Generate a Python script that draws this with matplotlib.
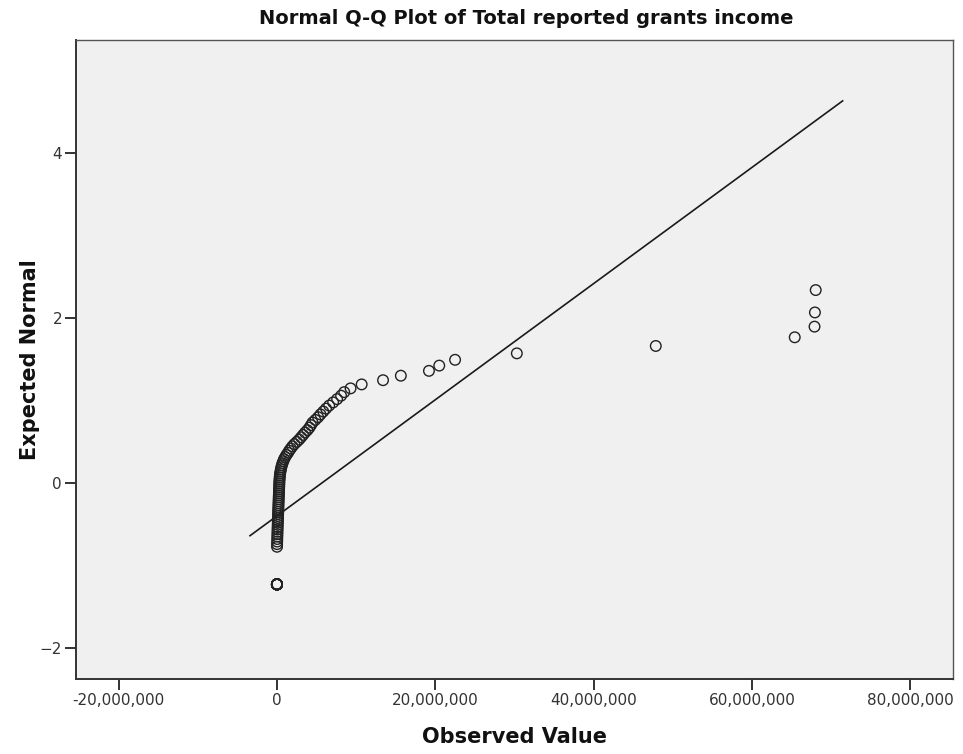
import numpy as np
import pandas as pd
import matplotlib
matplotlib.use("Agg")
import matplotlib.pyplot as plt
from matplotlib.ticker import FuncFormatter, FixedLocator
from statistics import NormalDist

# Total reported grants income per organisation (millions), sorted ascending
zero_reports = [0.0] * 22
grants_income_millions = zero_reports + [
    0.01, 0.02, 0.03, 0.04, 0.05, 0.06, 0.07, 0.08, 0.09, 0.10,
    0.11, 0.12, 0.13, 0.14, 0.15, 0.16, 0.17, 0.18, 0.19, 0.20,
    0.21, 0.22, 0.23, 0.24, 0.25, 0.26, 0.27, 0.28, 0.29, 0.30,
    0.31, 0.33, 0.35, 0.37, 0.40, 0.45, 0.50, 0.55, 0.62, 0.70,
    0.80, 0.90, 1.05, 1.20, 1.40, 1.55, 1.75, 1.95, 2.20, 2.50,
    2.80, 3.05, 3.30, 3.55, 3.85, 4.10, 4.30, 4.50, 4.85, 5.20,
    5.50, 5.85, 6.20, 6.60, 7.10, 7.60, 8.10, 8.50, 9.30, 10.7,
    13.4, 15.65, 19.2, 20.5, 22.5, 30.3, 47.85, 65.4, 67.9, 67.95,
    68.05,
]

x_ticks = [-20e6, 0, 20e6, 40e6, 60e6, 80e6]
y_ticks = [-2, 0, 2, 4]

observed = np.array(grants_income_millions) * 1e6
n = len(observed)

# Expected normal scores (Van der Waerden, mean rank for ties)
ranks = pd.Series(observed).rank(method="average").to_numpy()
nd = NormalDist()
expected = np.array([nd.inv_cdf(r / (n + 1)) for r in ranks])

# Reference line z = (x - mean) / sd
mu = observed.mean()
sd = observed.std(ddof=1)
span = observed.max() - observed.min()
line_x = np.array([observed.min() - 0.05 * span, observed.max() + 0.05 * span])
line_y = (line_x - mu) / sd

W, H = 963, 754
fig = plt.figure(figsize=(W / 100, H / 100), dpi=100)
fig.patch.set_facecolor("white")
left, right, top, bottom = 76, 953, 40, 679
ax = fig.add_axes([left / W, 1 - bottom / H, (right - left) / W, (bottom - top) / H])
ax.set_facecolor("#f0f0f0")

ax.plot(line_x, line_y, color="#1a1a1a", lw=1.2, zorder=2)
ax.scatter(observed, expected, s=58, facecolors="none", edgecolors="#222222",
           linewidths=1.0, zorder=3)

ax.set_xlim(-25.38e6, 85.39e6)
ax.set_ylim(-2.37, 5.37)
ax.xaxis.set_major_locator(FixedLocator(x_ticks))
ax.yaxis.set_major_locator(FixedLocator(y_ticks))
ax.xaxis.set_major_formatter(FuncFormatter(lambda v, p: f"{v:,.0f}"))
ax.yaxis.set_major_formatter(FuncFormatter(lambda v, p: f"{v:.0f}".replace("-", "\u2212")))

for s in ["top", "right"]:
    ax.spines[s].set_color("#555555")
    ax.spines[s].set_linewidth(1.0)
for s in ["left", "bottom"]:
    ax.spines[s].set_color("#333333")
    ax.spines[s].set_linewidth(1.4)

ax.tick_params(axis="both", direction="out", length=8, width=1.4, color="#333333",
               labelsize=11, labelcolor="#333333", pad=2)

fig.text(526 / W, 1 - 18 / H, "Normal Q-Q Plot of Total reported grants income",
         ha="center", va="center", fontsize=14, fontweight="bold",
         color="#111111")
fig.text(514 / W, 1 - 737 / H, "Observed Value", ha="center", va="center",
         fontsize=15, fontweight="bold", color="#111111")
fig.text(30 / W, 1 - 360 / H, "Expected Normal", ha="center", va="center",
         rotation=90, fontsize=15, fontweight="bold", color="#111111")

fig.savefig("out.png", dpi=100)
